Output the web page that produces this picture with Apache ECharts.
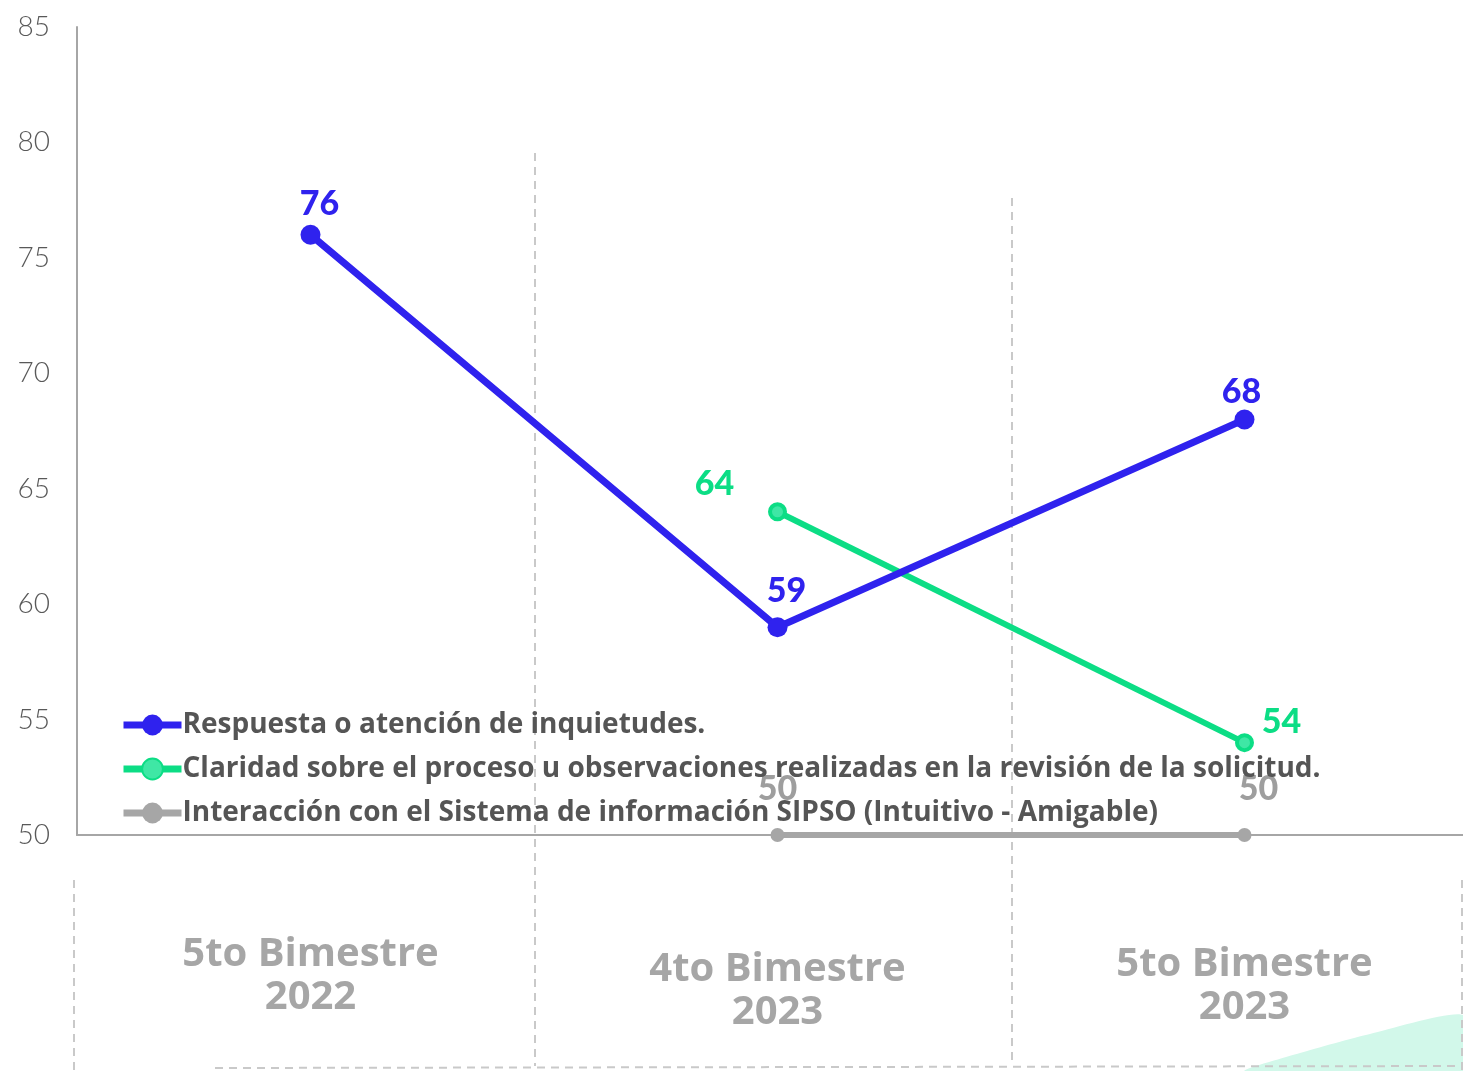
<!DOCTYPE html>
<html>
<head>
<meta charset="utf-8">
<script src="https://cdn.jsdelivr.net/npm/echarts@6/dist/echarts.min.js"></script>
<style>
  html, body { margin: 0; padding: 0; background: #fff; }
  #chart { width: 1463px; height: 1071px; }
</style>
</head>
<body>
<div id="chart"></div>
<script>
// Periods on the horizontal axis
const periods = ['5to Bimestre\n2022', '4to Bimestre\n2023', '5to Bimestre\n2023'];

// Series names and values per period (null = not measured)
const nameRespuesta = 'Respuesta o atención de inquietudes.';
const nameClaridad = 'Claridad sobre el proceso u observaciones realizadas en la revisión de la solicitud.';
const nameSipso = 'Interacción con el Sistema de información SIPSO (Intuitivo - Amigable)';

const respuesta = [76, 59, 68];
const claridad = [null, 64, 54];
const sipso = [null, 50, 50];

// Value axis ticks
const yTicks = [50, 55, 60, 65, 70, 75, 80, 85];

const BLUE = '#2F22EE';
const GREEN = '#0CDD85';
const GREY = '#A6A6A6';

// Per-point label nudges (pixels from the point)
const labelShift = {
  respuesta: [[9, -31], [9, -36], [-3, -27]],
  claridad: [null, [-63, -28], [37, -21]],
  sipso: [null, [0, -46], [14, -46]]
};

// Extra top padding of each period label
const periodLabelPad = [0, 15, 10];

function withLabels(values, shifts) {
  return values.map((v, i) => {
    if (v === null) return null;
    return { value: v, label: { offset: shifts[i] } };
  });
}

const labelFont = {
  show: true,
  position: 'inside',
  fontFamily: 'Lato, "Noto Sans", sans-serif',
  fontWeight: 900,
  fontSize: 34
};

const chart = echarts.init(document.getElementById('chart'), null, { renderer: 'canvas' });

const dash = { stroke: '#C9C9C9', lineWidth: 2, lineDash: [8, 6] };

chart.setOption({
  backgroundColor: '#ffffff',
  animation: false,
  grid: {
    left: 77, top: 27, width: 1401, bottom: 236,
    containLabel: false,
    outerBoundsMode: 'none'
  },
  legend: {
    orient: 'vertical',
    left: 120,
    top: 709,
    padding: 0,
    itemWidth: 58,
    itemHeight: 26,
    itemGap: 12,
    lineStyle: { width: 7 },
    textStyle: {
      fontFamily: '"Open Sans", "Noto Sans", sans-serif',
      fontWeight: 'bold',
      fontSize: 28,
      lineHeight: 32,
      color: '#555555',
      padding: [0, 0, 0, -4]
    },
    data: [nameRespuesta, nameClaridad, nameSipso]
  },
  xAxis: {
    type: 'category',
    data: periods.map((p, i) => ({
      value: p,
      textStyle: { padding: [periodLabelPad[i], 0, 0, 0] }
    })),
    boundaryGap: true,
    axisLine: { lineStyle: { color: GREY, width: 2 } },
    axisTick: { show: false },
    splitLine: { show: false },
    axisLabel: {
      margin: 98,
      color: '#A6A6A6',
      fontFamily: '"Open Sans", "Noto Sans", sans-serif',
      fontWeight: 'bold',
      fontSize: 40,
      lineHeight: 43,
      align: 'center'
    }
  },
  yAxis: {
    type: 'value',
    min: yTicks[0],
    max: yTicks[yTicks.length - 1],
    interval: 5,
    axisLine: { show: true, lineStyle: { color: GREY, width: 2 } },
    axisTick: { show: false },
    splitLine: { show: false },
    axisLabel: {
      margin: 27,
      color: '#595959',
      fontFamily: 'Lato, "Noto Sans", sans-serif',
      fontWeight: 300,
      fontSize: 28
    }
  },
  graphic: [
    { type: 'line', z: -1, shape: { x1: 535, y1: 153, x2: 535, y2: 1066 }, style: dash },
    { type: 'line', z: -1, shape: { x1: 1012, y1: 198, x2: 1012, y2: 1062 }, style: dash },
    { type: 'line', z: -1, shape: { x1: 74, y1: 880, x2: 74, y2: 1071 }, style: dash },
    { type: 'line', z: -1, shape: { x1: 1462, y1: 880, x2: 1462, y2: 1071 }, style: dash },
    { type: 'line', z: -1, shape: { x1: 215, y1: 1068, x2: 1463, y2: 1066 }, style: dash },
    {
      type: 'polygon', z: -2,
      shape: {
        points: [[1245, 1071], [1300, 1053], [1370, 1034], [1463, 1015], [1463, 1071]],
        smooth: 0.2
      },
      style: { fill: '#D2F8EA' }
    }
  ],
  series: [
    {
      name: nameRespuesta,
      type: 'line',
      data: withLabels(respuesta, labelShift.respuesta),
      symbol: 'circle',
      symbolSize: 20,
      lineStyle: { color: BLUE, width: 7 },
      itemStyle: { color: BLUE },
      label: Object.assign({ color: BLUE }, labelFont),
      z: 3
    },
    {
      name: nameClaridad,
      type: 'line',
      data: withLabels(claridad, labelShift.claridad),
      symbol: 'circle',
      symbolSize: 15,
      lineStyle: { color: GREEN, width: 6 },
      itemStyle: { color: '#3FE7A5', borderColor: GREEN, borderWidth: 4 },
      label: Object.assign({ color: GREEN }, labelFont),
      z: 2
    },
    {
      name: nameSipso,
      type: 'line',
      data: withLabels(sipso, labelShift.sipso),
      symbol: 'circle',
      symbolSize: 14,
      lineStyle: { color: GREY, width: 6 },
      itemStyle: { color: GREY },
      label: Object.assign({ color: '#9E9E9E' }, labelFont),
      z: 2
    }
  ]
});
</script>
</body>
</html>
